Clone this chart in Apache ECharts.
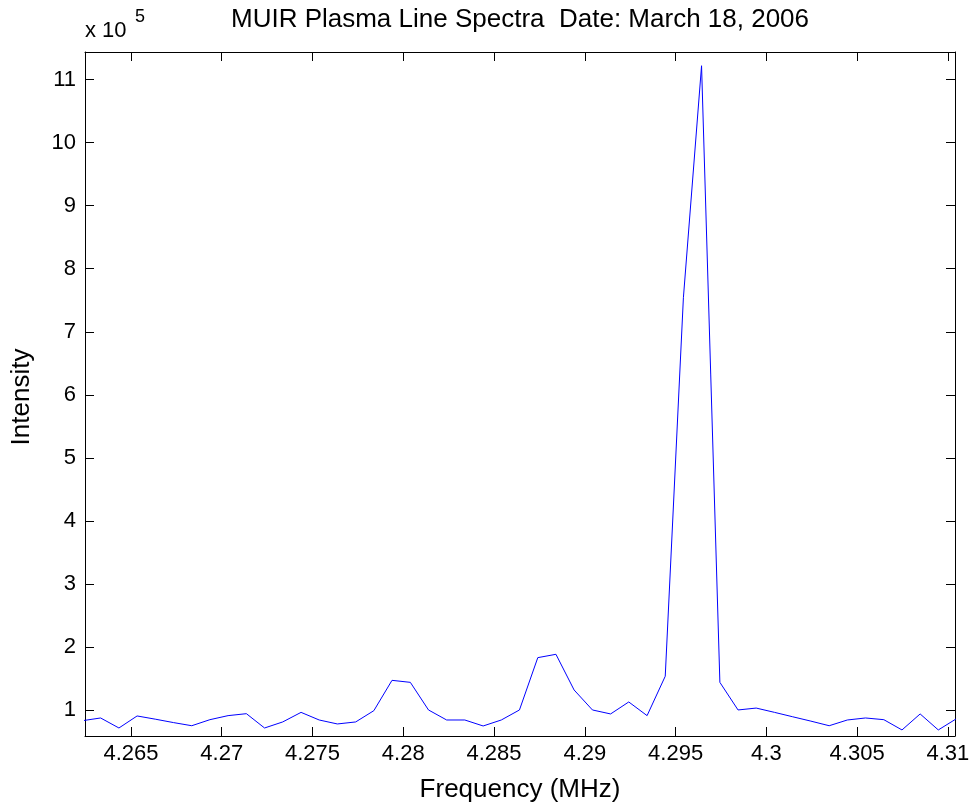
<!DOCTYPE html>
<html><head><meta charset="utf-8">
<script src="https://cdn.jsdelivr.net/npm/echarts@6/dist/echarts.min.js"></script>
<style>html,body{margin:0;padding:0;background:#fff}#c{width:974px;height:805px}</style>
</head><body><div id="c"></div>
<script>
// Frequency (MHz)
const frequencies = [
  4.26233, 4.26333, 4.26434, 4.26534, 4.26634, 4.26734, 4.26835, 4.26935, 4.27035, 4.27136,
  4.27236, 4.27336, 4.27437, 4.27537, 4.27637, 4.27738, 4.27838, 4.27938, 4.28039, 4.28139,
  4.28239, 4.28339, 4.28440, 4.28540, 4.28640, 4.28741, 4.28841, 4.28941, 4.29042, 4.29142,
  4.29242, 4.29343, 4.29443, 4.29543, 4.29643, 4.29744, 4.29844, 4.29944, 4.30045, 4.30145,
  4.30245, 4.30346, 4.30446, 4.30546, 4.30647, 4.30747, 4.30847, 4.30947, 4.31048
];
// Intensity in units of 10^5
const intensity = [
  0.830, 0.873, 0.714, 0.905, 0.854, 0.800, 0.750, 0.846, 0.910, 0.941,
  0.714, 0.810, 0.962, 0.841, 0.778, 0.810, 0.989, 1.470, 1.438, 1.000,
  0.841, 0.841, 0.746, 0.841, 1.000, 1.830, 1.883, 1.317, 1.000, 0.937,
  1.127, 0.910, 1.535, 7.540, 11.220, 1.438, 1.000, 1.030, 0.962, 0.892,
  0.823, 0.750, 0.841, 0.873, 0.846, 0.683, 0.937, 0.683, 0.863
];
const xTicks = [4.265, 4.27, 4.275, 4.28, 4.285, 4.29, 4.295, 4.3, 4.305, 4.31];
const yTicks = [1, 2, 3, 4, 5, 6, 7, 8, 9, 10, 11];
const titleText = 'MUIR Plasma Line Spectra  Date: March 18, 2006';
const xName = 'Frequency (MHz)';
const yName = 'Intensity';

const FONT = '"Liberation Sans", Arial, sans-serif';
const chart = echarts.init(document.getElementById('c'), null, {renderer: 'canvas'});
const tickCommon = {show: true, inside: true, length: 9, lineStyle: {color: '#000', width: 1}};
const lineCommon = {show: true, onZero: false, lineStyle: {color: '#000', width: 1}};
const xRange = {min: 4.26247, max: 4.31039};
const yRange = {min: 0.587, max: 11.438};
const fmtX = v => String(+(+v).toFixed(3));

chart.setOption({
  animation: false,
  backgroundColor: '#fff',
  grid: {left: 85, right: 19, top: 52, bottom: 69, containLabel: false},
  xAxis: [
    Object.assign({type: 'value', position: 'bottom', axisLine: lineCommon,
      axisTick: Object.assign({customValues: xTicks}, tickCommon),
      axisLabel: {customValues: xTicks, formatter: fmtX, color: '#000', fontSize: 22, fontFamily: FONT, margin: 7},
      splitLine: {show: false}}, xRange),
    Object.assign({type: 'value', position: 'top', axisLine: lineCommon,
      axisTick: Object.assign({customValues: xTicks}, tickCommon),
      axisLabel: {show: false}, splitLine: {show: false}}, xRange)
  ],
  yAxis: [
    Object.assign({type: 'value', position: 'left', axisLine: lineCommon,
      axisTick: Object.assign({customValues: yTicks}, tickCommon),
      axisLabel: {customValues: yTicks, formatter: v => String(Math.round(v)), color: '#000', fontSize: 22, fontFamily: FONT, margin: 9},
      splitLine: {show: false}}, yRange),
    Object.assign({type: 'value', position: 'right', axisLine: lineCommon,
      axisTick: Object.assign({customValues: yTicks}, tickCommon),
      axisLabel: {show: false}, splitLine: {show: false}}, yRange)
  ],
  graphic: [
    {type: 'text', x: 520, y: 20, style: {text: titleText, font: '26px ' + FONT, fill: '#000', align: 'center', verticalAlign: 'middle'}},
    {type: 'text', x: 520, y: 790, style: {text: xName, font: '26px ' + FONT, fill: '#000', align: 'center', verticalAlign: 'middle'}},
    {type: 'text', x: 22, y: 397, rotation: Math.PI / 2, style: {text: yName, font: '26px ' + FONT, fill: '#000', align: 'center', verticalAlign: 'middle'}},
    {type: 'text', x: 85, y: 31, style: {text: 'x 10', font: '22px ' + FONT, fill: '#000', verticalAlign: 'middle'}},
    {type: 'text', x: 135, y: 17, style: {text: '5', font: '18px ' + FONT, fill: '#000', verticalAlign: 'middle'}}
  ],
  series: [{
    type: 'line',
    data: frequencies.map((f, i) => [f, intensity[i]]),
    showSymbol: false,
    clip: true,
    lineStyle: {color: '#0000ff', width: 1},
    itemStyle: {color: '#0000ff'}
  }]
});
</script>
</body></html>
